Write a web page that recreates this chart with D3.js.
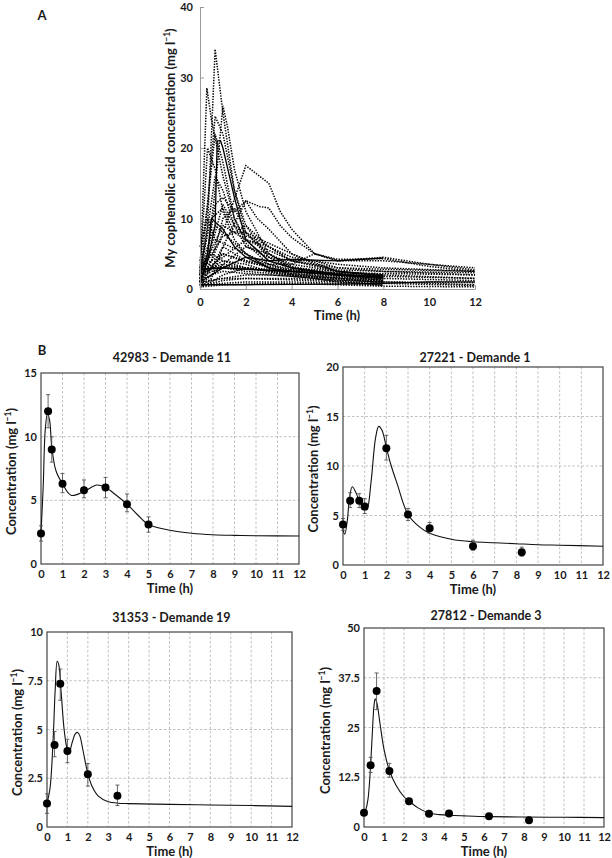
<!DOCTYPE html>
<html>
<head>
<meta charset="utf-8">
<script src="https://cdn.jsdelivr.net/npm/d3@7"></script>
<style>
  body { margin: 0; background: #fff; }
  svg text { font-family: Lato, "Open Sans", sans-serif; font-weight: bold; fill: #1a1a1a; }
</style>
</head>
<body>
<svg id="chart" width="612" height="858"></svg>
<script>
// ---------- Panel A: individual profiles [time (h), conc (mg/l)] ----------
const profilesDotted = [
  [[0,2],[0.33,9],[0.66,34],[1,25],[1.5,14],[2,8],[3,4.5],[4,3],[6,2],[8,1.2]],
  [[0,1.5],[0.3,28.5],[0.5,24],[1,16],[1.5,10],[2,6.5],[3,3.5],[4,2.5],[6,1.8],[8,1.2]],
  [[0,0.5],[0.33,5],[0.66,14],[1,26],[1.2,23],[1.5,17],[2,11],[3,5],[4,3.2],[6,2],[8,1.5]],
  [[0,1],[0.33,12],[0.66,24.5],[1,22],[1.5,14],[2,9],[3,4.5],[4,3],[6,2.2],[8,1.6]],
  [[0,1.5],[0.5,4],[1,8],[2,17.5],[3,15],[3.5,11],[4,8.5],[5,5],[6,4],[8,4.5],[10,3.5],[12,2.7]],
  [[0,1],[0.5,3],[1,6],[2,12.5],[2.6,11.7],[3,11.5],[3.5,9],[4,7.3],[5,5],[6,4.2],[8,4.3],[10,3.2],[12,2.5]],
  [[0,2],[0.33,5],[0.66,12],[1,13],[1.5,11],[2,12.5],[2.5,10],[3,8.5],[4,5],[5,3.5],[6,2.5],[8,2]],
  [[0,3],[0.5,10],[1,11.5],[1.5,8],[2,7],[3,6],[4,4],[6,2.7],[8,2.5],[12,2.3]],
  [[0,4],[0.33,12],[0.66,22],[1,18],[1.5,10],[2,7],[3,4],[4,3],[6,2.5],[8,2]],
  [[0,0.8],[0.33,4],[1,7.5],[1.5,8],[2,9],[3,6],[4,4.5],[5,4],[6,3],[8,2.5],[12,2]],
  [[0,0.5],[0.5,2],[1,3.5],[2,6],[3,5],[4,3.5],[6,2.5],[8,2],[12,1.5]],
  [[0,2.5],[0.33,20],[0.66,17],[1,11],[1.5,7],[2,5],[3,3],[4,2],[6,1.5],[8,1]],
  [[0,1],[0.5,6],[1,12],[1.5,9],[2,6],[3,4.5],[4,4],[5,4],[6,3.5],[8,3],[12,2.5]],
  [[0,3],[1,5],[2,4],[3,3.5],[4,3.5],[5,5],[6,4],[8,4],[10,3.5],[12,3]],
  [[0,0.3],[0.5,1],[1,2],[2,3],[3,2.5],[4,2],[6,1.5],[8,0.8]],
  [[0,2],[0.5,3],[1,3],[2,2.5],[4,2],[6,1.5],[8,1],[12,0.6]],
  [[0,1],[1,1.5],[2,2],[3,2],[4,1.8],[6,1.2],[8,0.5]],
  [[0,0.5],[1,0.8],[2,1],[4,1],[6,0.8],[8,0.5]],
  [[0,3],[0.5,5],[1,4],[2,3],[3,2.5],[4,2.2],[6,1.8],[8,1.5],[12,1.2]],
  [[0,1.5],[0.5,2.5],[1,3],[2,2.8],[4,2.5],[6,2],[8,1.8],[12,1.5]],
  [[0,0.2],[0.5,1.5],[1,6],[1.5,5],[2,4],[3,3],[4,2],[6,1],[8,0.6]],
  [[0,2],[0.33,6],[0.66,9],[1,8],[2,5],[3,3.5],[4,2.8],[6,2],[8,1.6]],
  [[0,1],[0.5,4],[1,10],[1.5,11.5],[2,8],[3,5],[4,3],[6,2],[8,1.5]],
  [[0,2.5],[1,3.5],[2,3],[3,2.8],[4,2.6],[6,2.3],[8,2.2],[12,2]],
  [[0,0.8],[1,1.5],[2,1.5],[4,1.3],[6,1],[8,0.8],[12,0.5]],
  [[0,6],[0.33,10],[0.66,7],[1,6.5],[2,5],[3,3],[4,2.2],[6,1.6],[8,1.3]],
  [[0,1],[0.66,16],[1,14],[1.5,9],[2,7.5],[2.5,7],[3,6],[4,4],[6,2.5],[8,1.8]],
  [[0,2],[1,9],[1.5,8],[2,8],[3,6.5],[4,5],[6,2.5],[8,1.8]],
  [[0,1.5],[0.33,3],[1,4.5],[2,7],[3,5.5],[4,4],[6,3],[8,2.8],[12,2.5]],
  [[0,0.4],[0.5,0.8],[1,1.2],[2,1.5],[4,1.5],[6,1.2],[8,1],[12,0.9]],
  [[0,1.2],[0.5,2],[1,2.5],[2,2.2],[3,2],[4,1.8],[6,1.5],[8,1.2]],
  [[0,2.2],[0.5,2.8],[1,3.2],[2,3],[3,2.6],[4,2.4],[6,2.1],[7,1.8],[8,1.6]],
  [[0,0.6],[0.5,3],[1,4],[2,3.5],[3,2.5],[4,1.8],[6,1.3],[8,1]],
  [[0,1.8],[0.33,2.5],[1,5],[2,3.8],[3,3.2],[4,2.7],[6,2.2],[8,1.9]],
  [[0,0.3],[1,0.6],[3,0.8],[5,0.7],[8,0.4],[12,0.3]]
];
const profilesSolid = [
  [[0,1],[0.33,4],[0.66,9],[0.75,21],[0.9,21],[1,20],[1.5,13],[2,7],[3,4],[4,3],[6,2],[8,1.5]],
  [[0,2.8],[1,3],[2,2.8],[4,2.5],[6,2],[8,1.6]],
  [[0,0.6],[2,0.6],[6,0.7],[8,0.8],[10,1],[12,1]],
  [[0,2],[0.33,5],[0.5,10],[1,8.5],[1.5,6],[2,4.5],[3,3],[4,2.5],[6,2],[8,1.8]],
  [[0,1],[1,3],[2,4.5],[3,4],[4,4.2],[6,4],[8,4.4]]
];
const ticksAx = [0, 2, 4, 6, 8, 10, 12];
const ticksAy = [0, 10, 20, 30, 40];

// ---------- Panel B: four patients ----------
const titles = ['42983 - Demande 11', '27221 - Demande 1', '31353 - Demande 19', '27812 - Demande 3'];
const yTickSets = [[0, 5, 10, 15], [0, 5, 10, 15, 20], [0, 2.5, 5, 7.5, 10], [0, 12.5, 25, 37.5, 50]];
const xTicksB = [0, 1, 2, 3, 4, 5, 6, 7, 8, 9, 10, 11, 12];

// observed concentrations with error bar limits
const obs11T = [0, 0.33, 0.5, 1, 2, 3, 4, 5];
const obs11C = [2.4, 12, 9, 6.3, 5.8, 6, 4.7, 3.1];
const obs11Lo = [1.8, 10.7, 8, 5.6, 5.2, 5.2, 4.1, 2.5];
const obs11Hi = [3.0, 13.3, 10, 7.1, 6.6, 6.8, 5.5, 3.7];
const fit11T = [0, 0.1, 0.2, 0.3, 0.4, 0.5, 0.7, 1, 1.4, 2, 2.6, 3, 3.5, 4, 4.5, 5, 6, 7, 8, 9, 10, 12];
const fit11C = [2.4, 6, 10.6, 11.8, 11.3, 9.2, 7.3, 6.3, 5.4, 5.7, 6.2, 6.0, 5.4, 4.7, 3.85, 3.1, 2.65, 2.42, 2.3, 2.25, 2.22, 2.2];

const obs1T = [0, 0.33, 0.75, 1, 2, 3, 4, 6, 8.25];
const obs1C = [4.1, 6.5, 6.5, 5.9, 11.8, 5.1, 3.7, 1.9, 1.3];
const obs1Lo = [3.5, 5.8, 5.8, 5.2, 10.6, 4.5, 3.2, 1.5, 0.9];
const obs1Hi = [4.7, 7.3, 7.2, 6.7, 13.1, 5.7, 4.3, 2.5, 1.8];
const fit1T = [0, 0.08, 0.2, 0.3, 0.43, 0.6, 0.8, 1.0, 1.1, 1.3, 1.5, 1.65, 1.8, 2.0, 2.2, 2.5, 3, 3.5, 4, 5, 6, 7, 8, 9, 10, 12];
const fit1C = [3.6, 3.1, 4.5, 6.8, 7.9, 7.3, 6.2, 5.7, 5.6, 8.5, 12.8, 14, 13.6, 11.9, 10.2, 8.2, 5.1, 3.9, 3.2, 2.6, 2.35, 2.25, 2.15, 2.05, 2.0, 1.9];

const obs19T = [0, 0.37, 0.65, 1, 2, 3.45];
const obs19C = [1.2, 4.2, 7.35, 3.9, 2.7, 1.6];
const obs19Lo = [0.7, 3.6, 6.5, 3.3, 2.1, 1.1];
const obs19Hi = [1.7, 4.9, 8.1, 4.5, 3.25, 2.15];
const fit19T = [0, 0.15, 0.3, 0.4, 0.5, 0.58, 0.7, 0.85, 1.0, 1.1, 1.25, 1.4, 1.5, 1.6, 1.75, 1.9, 2.0, 2.2, 2.5, 3, 3.5, 4, 6, 8, 10, 12];
const fit19C = [1.2, 2.0, 4.5, 7.0, 8.5, 8.3, 6.8, 4.9, 4.0, 3.9, 4.4, 4.8, 4.85, 4.7, 4.0, 3.2, 2.75, 2.1, 1.6, 1.3, 1.22, 1.2, 1.16, 1.13, 1.1, 1.06];

const obs3T = [0, 0.33, 0.63, 1.27, 2.25, 3.25, 4.25, 6.25, 8.25];
const obs3C = [3.6, 15.5, 34.2, 14.1, 6.5, 3.3, 3.4, 2.7, 1.7];
const obs3Lo = [3.1, 13.7, 29.5, 12.5, 6.0, 2.9, 3.0, 2.3, 1.3];
const obs3Hi = [4.1, 17.5, 38.7, 16, 7.0, 3.7, 3.8, 3.1, 2.1];
const fit3T = [0, 0.1, 0.2, 0.3, 0.4, 0.5, 0.56, 0.65, 0.8, 1.0, 1.27, 1.6, 2, 2.25, 2.7, 3.25, 3.8, 4.25, 5, 6.25, 8, 10, 12];
const fit3C = [3.35, 4.5, 7, 13, 22, 30.5, 32.2, 31, 26, 19.5, 14.2, 10.5, 7.6, 6.5, 4.8, 3.5, 3.1, 2.95, 2.8, 2.6, 2.5, 2.45, 2.35];

const svg = d3.select('#chart');

// ---------- Panel A ----------
const xA = d3.scaleLinear().domain([0, 12]).range([200, 475]);
const yA = d3.scaleLinear().domain([0, 40]).range([289, 7]);
const lineA = d3.line().x(d => xA(d[0])).y(d => yA(d[1]));

svg.append('text').attr('x', 42).attr('y', 20).attr('text-anchor', 'middle')
  .style('font-size', '13px').text('A');

const gA = svg.append('g');
gA.selectAll('.dotted').data(profilesDotted).join('path')
  .attr('d', lineA).attr('fill', 'none').attr('stroke', '#000')
  .attr('stroke-width', 1.5).attr('stroke-dasharray', '1.4 1.3');
gA.selectAll('.solid').data(profilesSolid).join('path')
  .attr('d', lineA).attr('fill', 'none').attr('stroke', '#000')
  .attr('stroke-width', 1.3);

const axA = gA.append('g').attr('transform', 'translate(0,289)')
  .call(d3.axisBottom(xA).tickValues(ticksAx).tickSizeInner(-4).tickSizeOuter(0).tickPadding(9));
const ayA = gA.append('g').attr('transform', 'translate(200,0)')
  .call(d3.axisLeft(yA).tickValues(ticksAy).tickSizeInner(-4).tickSizeOuter(0).tickPadding(7));
[axA, ayA].forEach(a => {
  a.select('.domain').attr('stroke', '#999');
  a.selectAll('.tick line').attr('stroke', '#999');
  a.selectAll('text').style('font-size', '11px').style('font-family', 'Lato, sans-serif').attr('fill', '#1a1a1a');
});

svg.append('text').attr('x', 337).attr('y', 320).attr('text-anchor', 'middle')
  .style('font-size', '13px').text('Time (h)');
concLabel(svg, 175, 148, 'My cophenolic acid concentration (mg l');

svg.append('text').attr('x', 42).attr('y', 355).attr('text-anchor', 'middle')
  .style('font-size', '13px').text('B');

// ---------- Panel B ----------
const boxes = [
  { x0: 41, x1: 299, y0: 373, y1: 564, titleY: 362, labelX: 16 },
  { x0: 343, x1: 603, y0: 367, y1: 565, titleY: 362, labelX: 318 },
  { x0: 47, x1: 292, y0: 632, y1: 827, titleY: 622, labelX: 22 },
  { x0: 364, x1: 604, y0: 628, y1: 827, titleY: 620, labelX: 330 }
];
const obsSets = [
  [obs11T, obs11C, obs11Lo, obs11Hi, fit11T, fit11C],
  [obs1T, obs1C, obs1Lo, obs1Hi, fit1T, fit1C],
  [obs19T, obs19C, obs19Lo, obs19Hi, fit19T, fit19C],
  [obs3T, obs3C, obs3Lo, obs3Hi, fit3T, fit3C]
];

boxes.forEach((b, i) => drawPanel(b, titles[i], yTickSets[i], obsSets[i]));

function drawPanel(b, title, yTicks, set) {
  const [oT, oC, oLo, oHi, fT, fC] = set;
  const x = d3.scaleLinear().domain([0, 12]).range([b.x0, b.x1]);
  const y = d3.scaleLinear().domain([0, yTicks[yTicks.length - 1]]).range([b.y1, b.y0]);
  const g = svg.append('g');

  // grid
  g.append('g').selectAll('line').data(xTicksB.slice(1, -1)).join('line')
    .attr('x1', d => x(d)).attr('x2', d => x(d)).attr('y1', b.y0).attr('y2', b.y1)
    .attr('stroke', '#b0b0b0').attr('stroke-width', 0.8).attr('stroke-dasharray', '2.5 2');
  g.append('g').selectAll('line').data(yTicks.slice(1, -1)).join('line')
    .attr('y1', d => y(d)).attr('y2', d => y(d)).attr('x1', b.x0).attr('x2', b.x1)
    .attr('stroke', '#b0b0b0').attr('stroke-width', 0.8).attr('stroke-dasharray', '2.5 2');

  // axes (labels only)
  const ax = g.append('g').attr('transform', `translate(0,${b.y1})`)
    .call(d3.axisBottom(x).tickValues(xTicksB).tickSize(0).tickPadding(6));
  const ay = g.append('g').attr('transform', `translate(${b.x0},0)`)
    .call(d3.axisLeft(y).tickValues(yTicks).tickFormat(d => d).tickSize(0).tickPadding(4));
  [ax, ay].forEach(a => {
    a.select('.domain').remove();
    a.selectAll('text').style('font-size', '11px').style('font-family', 'Lato, sans-serif').attr('fill', '#1a1a1a');
  });

  g.append('rect').attr('x', b.x0).attr('y', b.y0)
    .attr('width', b.x1 - b.x0).attr('height', b.y1 - b.y0)
    .attr('fill', 'none').attr('stroke', '#444').attr('stroke-width', 1.2);

  // fitted curve
  const fit = fT.map((t, k) => [t, fC[k]]);
  g.append('path').datum(fit)
    .attr('d', d3.line().x(d => x(d[0])).y(d => y(d[1])).curve(d3.curveCatmullRom))
    .attr('fill', 'none').attr('stroke', '#111').attr('stroke-width', 1.1);

  // error bars and points
  const pts = oT.map((t, k) => ({ t: t, c: oC[k], lo: oLo[k], hi: oHi[k] }));
  const eb = g.append('g').attr('stroke', '#555').attr('stroke-width', 0.9);
  eb.selectAll('.v').data(pts).join('line')
    .attr('x1', d => x(d.t)).attr('x2', d => x(d.t)).attr('y1', d => y(d.lo)).attr('y2', d => y(d.hi));
  eb.selectAll('.top').data(pts).join('line')
    .attr('x1', d => x(d.t) - 2).attr('x2', d => x(d.t) + 2).attr('y1', d => y(d.hi)).attr('y2', d => y(d.hi));
  eb.selectAll('.bot').data(pts).join('line')
    .attr('x1', d => x(d.t) - 2).attr('x2', d => x(d.t) + 2).attr('y1', d => y(d.lo)).attr('y2', d => y(d.lo));
  g.selectAll('circle').data(pts).join('circle')
    .attr('cx', d => x(d.t)).attr('cy', d => y(d.c)).attr('r', 4).attr('fill', '#000');

  // labels
  const cx = (b.x0 + b.x1) / 2;
  svg.append('text').attr('x', cx + 2).attr('y', b.titleY).attr('text-anchor', 'middle')
    .style('font-size', '12.5px').text(title);
  svg.append('text').attr('x', cx).attr('y', b.y1 + 29).attr('text-anchor', 'middle')
    .style('font-size', '13px').text('Time (h)');
  concLabel(svg, b.labelX, (b.y0 + b.y1) / 2 + 3, 'Concentration (mg l');
}

function concLabel(sel, x, y, txt) {
  const t = sel.append('text')
    .attr('transform', `translate(${x},${y}) rotate(-90)`)
    .attr('text-anchor', 'middle').style('font-size', '13px');
  t.append('tspan').text(txt);
  t.append('tspan').attr('dy', -5).style('font-size', '8.5px').text('\u22121');
  t.append('tspan').attr('dy', 5).text(')');
}
</script>
</body>
</html>
